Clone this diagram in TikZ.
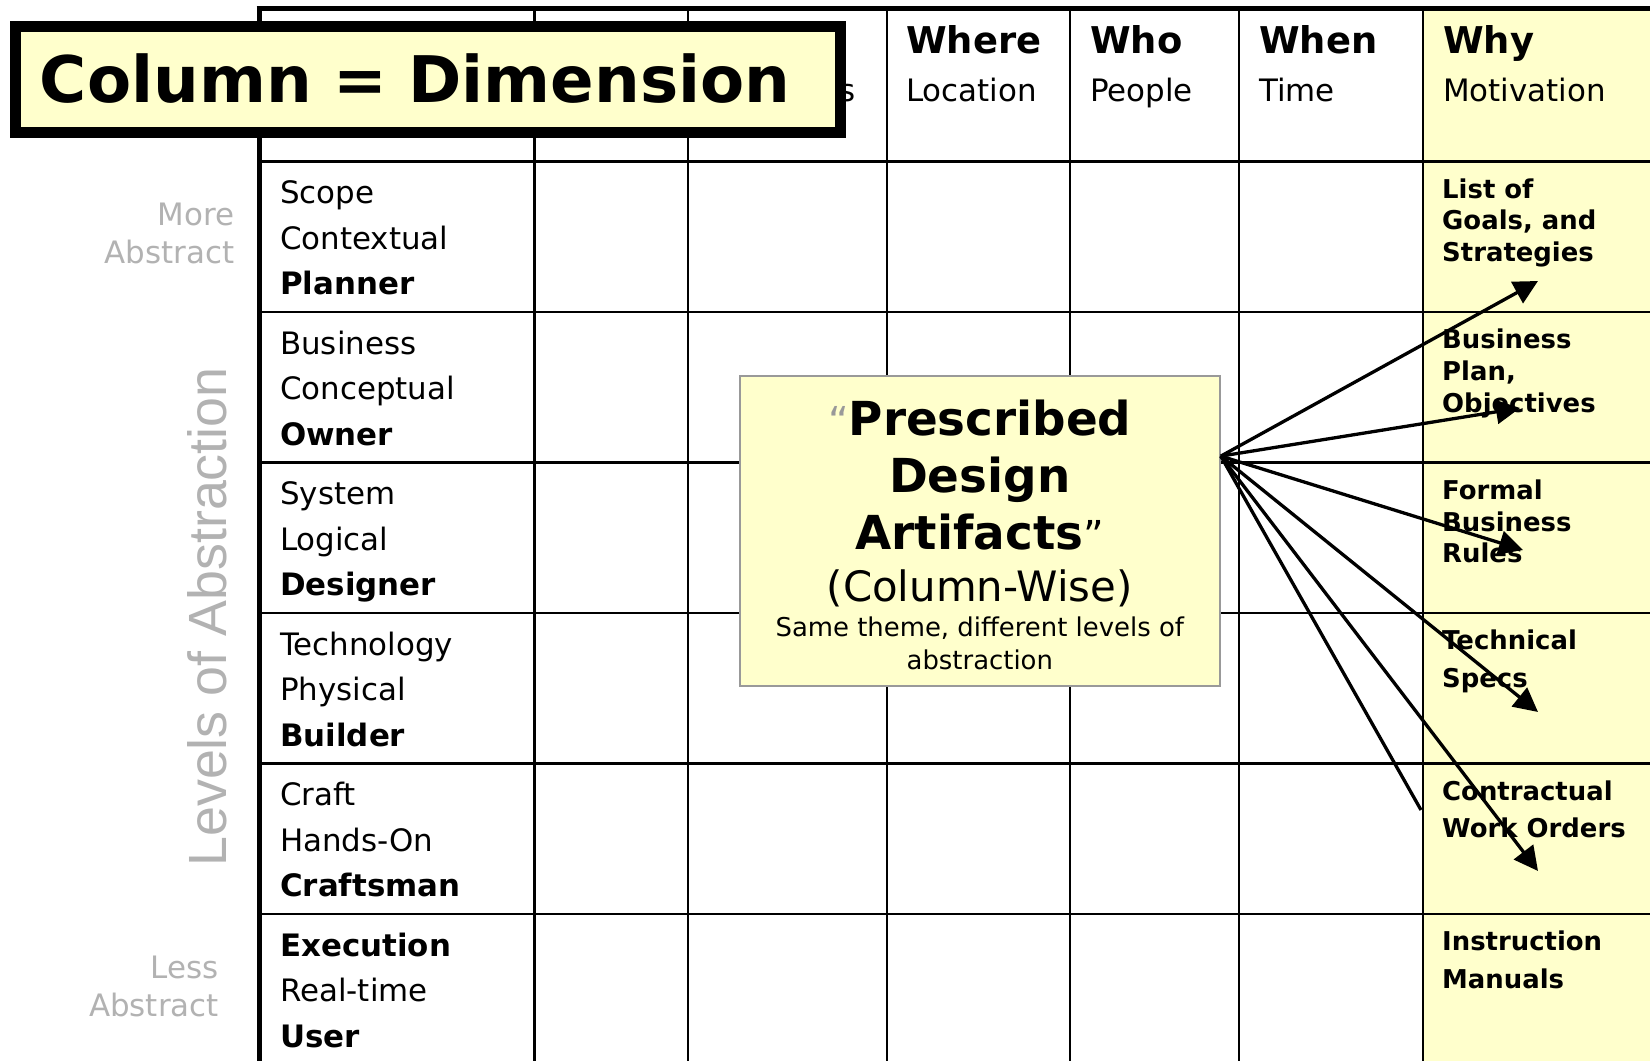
\documentclass[tikz,border=0pt]{standalone}
\usepackage{fontspec}
\setmainfont{DejaVu Sans}
\newfontfamily\levelfont{Liberation Sans}
\usepackage{xcolor}
\usepackage{tikz}
\usetikzlibrary{positioning,arrows.meta,calc}
\definecolor{zaYellow}{HTML}{FFFFCC}
\definecolor{zaGrey}{HTML}{B2B2B2}
\definecolor{zaBoxLine}{HTML}{999999}
\definecolor{zaQuote}{HTML}{999999}
\newcommand{\hdrbold}[1]{{\fontsize{37}{48.2}\selectfont\bfseries #1}}
\tikzset{
  gridline/.style={line width=2.6bp},
  frameline/.style={line width=5bp},
  hdrtext/.style={anchor=base west, align=left, inner sep=0pt,
                  font=\fontsize{31}{48.2}\selectfont},
  rowtext/.style={anchor=base west, align=left, inner sep=0pt,
                  font=\fontsize{31}{45.5}\selectfont},
  whytext/.style={anchor=base west, align=left, inner sep=0pt,
                  font=\fontsize{26}{31.8}\selectfont\bfseries},
  whywide/.style={whytext, font=\fontsize{26}{37.5}\selectfont\bfseries},
  sidetext/.style={anchor=base east, align=right, inner sep=0pt, text=zaGrey,
                   font=\fontsize{31}{38}\selectfont},
  titlebox/.style={draw, line width=11bp, fill=zaYellow, minimum width=824bp,
                   minimum height=106bp, inner xsep=24bp, inner ysep=0pt,
                   text width=776bp, align=left,
                   font=\fontsize{64.5}{70}\selectfont\bfseries},
  artbox/.style={draw=zaBoxLine, line width=2bp, fill=zaYellow,
                 minimum width=480bp, minimum height=310bp, inner sep=0pt},
  arttext/.style={anchor=base, align=center, inner sep=0pt},
  fanarrow/.style={line width=3.3bp, -{Triangle[length=24bp, width=24bp]}},
}

\begin{document}
\begin{tikzpicture}[x=1bp, y=-1bp]
\useasboundingbox (0,0) rectangle (1650,1061);
\clip (0,0) rectangle (1650,1061);
\fill[white] (0,0) rectangle (1650,1061);

%% Grid
\fill[zaYellow] (1423,8) rectangle (1650,1061);
\foreach \r in {0,...,5}
  \draw[gridline] (259,161.5+150.5*\r) -- (1650,161.5+150.5*\r);
\foreach \x in {534.6,688,887,1070,1239,1423}
  \draw[gridline] (\x,8) -- (\x,1061);
\draw[frameline] (256.5,8.3) -- (1650,8.3);
\draw[frameline] (259,6) -- (259,1061);

%% Column headers (anchored on the last line)
\node[hdrtext] (hdrHow) at (708,101.7) {Functions};
\node[hdrtext] (hdrWhere) at (906,101.7) {\hdrbold{Where}\\Location};
\node[hdrtext] (hdrWho) at (1090,101.7) {\hdrbold{Who}\\People};
\node[hdrtext] (hdrWhen) at (1259,101.7) {\hdrbold{When}\\Time};
\node[hdrtext] (hdrWhy) at (1443,101.7) {\hdrbold{Why}\\Motivation};

%% Rows
\node[rowtext] (scope) at (280,294.5) {Scope\\Contextual\\\textbf{Planner}};
\node[rowtext] (business) at (280,445) {Business\\Conceptual\\\textbf{Owner}};
\node[rowtext] (system) at (280,595.5) {System\\Logical\\\textbf{Designer}};
\node[rowtext] (technology) at (280,746) {Technology\\Physical\\\textbf{Builder}};
\node[rowtext] (craft) at (280,896.5) {Craft\\Hands-On\\\textbf{Craftsman}};
\node[rowtext] (execution) at (280,1047) {\textbf{Execution}\\Real-time\\\textbf{User}};

%% Why column
\node[whytext] (goals) at (1442,261.6) {List of\\Goals, and\\Strategies};
\node[whytext] (plan) at (1442,412.3) {Business\\Plan,\\Objectives};
\node[whytext] (rules) at (1442,562.8) {Formal\\Business\\Rules};
\node[whywide] (specs) at (1442,687.2) {Technical\\Specs};
\node[whywide] (orders) at (1442,837.7) {Contractual\\Work Orders};
\node[whywide] (manuals) at (1442,988.2) {Instruction\\Manuals};

%% Abstraction axis
\node[sidetext] (moreAbs) at (234.6,263) {More\\Abstract};
\node[sidetext] (lessAbs) at (219,1016) {Less\\Abstract};
\node[rotate=90, text=zaGrey, inner sep=0pt,
      font=\levelfont\fontsize{54}{60}\selectfont] (levels) at (207,617) {Levels of Abstraction};

%% Title
\node[titlebox] (dimtitle) at (428,79) {Column = Dimension};

%% Artifact box
\node[artbox] (pda) at (979.8,531) {};
\node[arttext, font=\fontsize{47}{57.2}\selectfont\bfseries] (pdaTitle) at (979.8,549.3)
  {{\mdseries\fontsize{40}{57.2}\selectfont\color{zaQuote}“}Prescribed\\Design\\Artifacts{\mdseries\fontsize{40}{57.2}\selectfont ”}};
\node[arttext, font=\fontsize{42}{50}\selectfont] (pdaWise) at (979.8,601.7) {(Column-Wise)};
\node[arttext, font=\fontsize{26}{32.6}\selectfont] (pdaNote) at (979.8,669.3)
  {Same theme, different levels of\\abstraction};

%% Fan of arrows
\coordinate (src) at ($(pda.north east)!0.26!(pda.south east)$);
\coordinate (tipGoals) at (1538,281);
\coordinate (tipPlan) at (1520,408);
\coordinate (tipRules) at (1523,550);
\coordinate (tipSpecs) at (1538,712);
\coordinate (tipOrders) at (1538,871);
\coordinate (endWork) at (1421,810);
\draw[fanarrow] (src) -- (tipGoals);
\draw[fanarrow] (src) -- (tipPlan);
\draw[fanarrow] (src) -- (tipRules);
\draw[fanarrow] (src) -- (tipSpecs);
\draw[fanarrow] (src) -- (tipOrders);
\draw[line width=3.3bp] (src) -- (endWork);
\end{tikzpicture}
\end{document}
